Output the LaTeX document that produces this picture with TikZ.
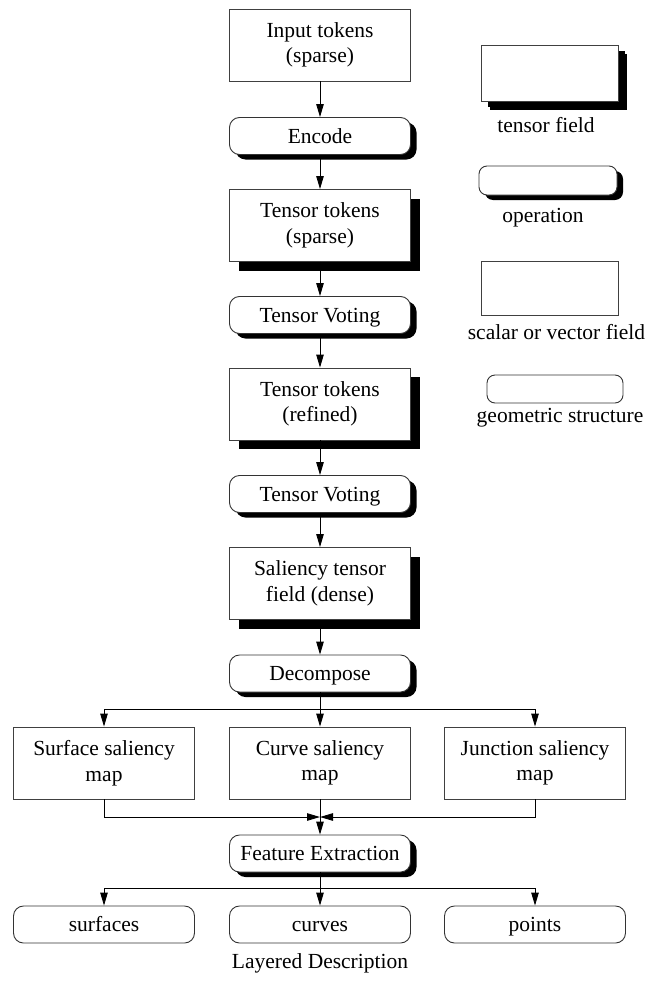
\documentclass[tikz,border=0pt]{standalone}
\usepackage{fontspec}
\setmainfont{Liberation Serif}
\usetikzlibrary{positioning,arrows.meta,shadows}
\tikzset{
  field/.style={draw=black!75,line width=0.9pt,fill=white,align=center,minimum width=181pt,minimum height=72pt,inner sep=0pt},
  tfield/.style={field,drop shadow={shadow xshift=9pt,shadow yshift=-9pt,fill=black,opacity=1}},
  geo/.style={draw=black!80,line width=0.9pt,fill=white,rounded corners=10pt,minimum width=181pt,minimum height=37pt,inner sep=0pt,text height=18pt,text depth=4pt},
  op/.style={geo,drop shadow={shadow xshift=6pt,shadow yshift=-5pt,fill=black,opacity=1}},
  flow/.style={line width=0.9pt,-{Triangle[length=13pt,width=7.5pt]}},
  every node/.style={font=\fontsize{21.5}{25.5}\selectfont}
}
\begin{document}
\begin{tikzpicture}[x=1pt,y=-1pt]
  \useasboundingbox (0,0) rectangle (659,982);
  % main chain
  \node[field] (in) at (320,45) {Input tokens\\(sparse)};
  \node[op] (enc) at (320,136) {Encode};
  \node[tfield] (tts) at (320,225.5) {Tensor tokens\\(sparse)};
  \node[op] (tv1) at (320,315) {Tensor Voting};
  \node[tfield] (ttr) at (320,404) {Tensor tokens\\(refined)};
  \node[op] (tv2) at (320,494) {Tensor Voting};
  \node[tfield] (sal) at (320,583.5) {Saliency tensor\\field (dense)};
  \node[op] (dec) at (320,673.5) {Decompose};
  \node[field] (sur) at (104,763) {Surface saliency\\map};
  \node[field] (cur) at (320,763) {Curve saliency\\map};
  \node[field] (jun) at (535,763) {Junction saliency\\map};
  \node[op] (fe) at (320,853.5) {Feature Extraction};
  \node[geo] (srf) at (104,924.5) {surfaces};
  \node[geo] (crv) at (320,924.5) {curves};
  \node[geo] (pts) at (535,924.5) {points};
  \node (lay) at (320,963) {Layered Description};
  % legend
  \node[tfield,minimum width=137pt,minimum height=56pt,drop shadow={shadow xshift=7pt,shadow yshift=-6pt,fill=black,opacity=1}] (lg1) at (549.5,73) {};
  \node (lg1t) at (546,125) {tensor field};
  \node[op,minimum width=138pt,minimum height=29pt,rounded corners=8pt] (lg2) at (548,180.5) {};
  \node (lg2t) at (543,218) {operation};
  \node[field,minimum width=137pt,minimum height=54pt] (lg3) at (549.5,288) {};
  \node (lg3t) at (556.5,332) {scalar or vector field};
  \node[geo,minimum width=136pt,minimum height=28pt,rounded corners=8pt] (lg4) at (555,389) {};
  \node (lg4t) at (560,418) {geometric structure};
  % arrows
  \foreach \a/\b in {in/enc,enc/tts,tts/tv1,tv1/ttr,ttr/tv2,tv2/sal,sal/dec,dec/cur,cur/fe,fe/crv}
    \draw[flow] (\a) -- (\b);
  \coordinate (split) at (320,709);
  \coordinate (merge) at (320,817);
  \coordinate (fork) at (320,888);
  \draw[flow] (split) -| (sur.north);
  \draw[flow] (split) -| (jun.north);
  \draw[flow] (sur.south) |- (merge);
  \draw[flow] (jun.south) |- (merge);
  \draw[flow] (fork) -| (srf.north);
  \draw[flow] (fork) -| (pts.north);
\end{tikzpicture}
\end{document}
